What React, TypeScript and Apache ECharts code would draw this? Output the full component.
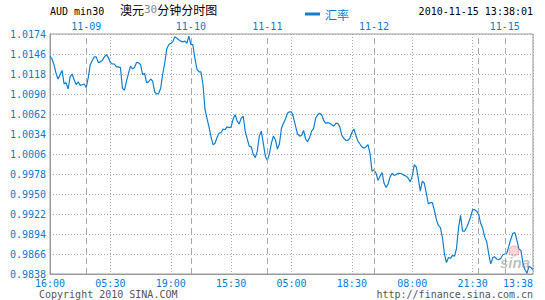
import React, { useEffect, useRef } from "react";
import * as echarts from "echarts";

// Time-axis labels, one every 30 samples
const timeLabels = ["16:00", "05:30", "19:00", "15:30", "05:00", "18:30", "08:00", "21:30", "13:38"];
const labelStep = 30;

// Day boundaries (sample index) and their date labels
const dayIndex = [18, 70, 108, 161, 213, 226];
const dayLabels = ["11-09", "11-10", "11-11", "11-12", "", "11-15"];

// Y axis
const yMin = 0.9838;
const yMax = 1.0174;
const yStep = 0.0028;

// AUD rate, 30-minute intraday samples
const rates = [
  1.0143, 1.0139, 1.0131, 1.0119, 1.0111, 1.0117, 1.0123, 1.0104, 1.0106, 1.0097,
  1.0114, 1.0118, 1.0110, 1.0103, 1.0107, 1.0102, 1.0103, 1.0104, 1.0099, 1.0113,
  1.0131, 1.0137, 1.0142, 1.0142, 1.0134, 1.0135, 1.0137, 1.0142, 1.0145, 1.0141,
  1.0134, 1.0132, 1.0132, 1.0128, 1.0128, 1.0127, 1.0098, 1.0095, 1.0108, 1.0119,
  1.0129, 1.0125, 1.0127, 1.0134, 1.0134, 1.0131, 1.0117, 1.0119, 1.0106, 1.0107,
  1.0111, 1.0108, 1.0093, 1.0090, 1.0091, 1.0098, 1.0118, 1.0133, 1.0153, 1.0159,
  1.0161, 1.0163, 1.0170, 1.0168, 1.0166, 1.0164, 1.0163, 1.0164, 1.0161, 1.0171,
  1.0159, 1.0159, 1.0140, 1.0125, 1.0121, 1.0121, 1.0104, 1.0069, 1.0056, 1.0044,
  1.0030, 1.0019, 1.0021, 1.0029, 1.0035, 1.0036, 1.0041, 1.0040, 1.0044, 1.0043,
  1.0044, 1.0055, 1.0061, 1.0052, 1.0048, 1.0056, 1.0059, 1.0038, 1.0027, 1.0017,
  1.0016, 1.0005, 1.0001, 1.0010, 1.0031, 1.0038, 1.0021, 1.0003, 0.9997, 1.0006,
  1.0021, 1.0031, 1.0026, 1.0013, 1.0020, 1.0042, 1.0049, 1.0055, 1.0063, 1.0065,
  1.0065, 1.0057, 1.0045, 1.0034, 1.0031, 1.0032, 1.0039, 1.0027, 1.0023, 1.0029,
  1.0038, 1.0042, 1.0056, 1.0061, 1.0063, 1.0061, 1.0053, 1.0049, 1.0050, 1.0049,
  1.0047, 1.0045, 1.0049, 1.0049, 1.0044, 1.0032, 1.0028, 1.0025, 1.0025, 1.0028,
  1.0036, 1.0041, 1.0032, 1.0024, 1.0020, 1.0016, 1.0014, 1.0016, 1.0019, 1.0007,
  0.9982, 0.9984, 0.9979, 0.9969, 0.9975, 0.9980, 0.9965, 0.9959, 0.9964, 0.9974,
  0.9979, 0.9976, 0.9977, 0.9979, 0.9979, 0.9978, 0.9976, 0.9975, 0.9972, 0.9967,
  0.9975, 0.9991, 0.9988, 0.9972, 0.9954, 0.9968, 0.9965, 0.9951, 0.9936, 0.9938,
  0.9938, 0.9927, 0.9914, 0.9906, 0.9903, 0.9889, 0.9866, 0.9854, 0.9861, 0.9860,
  0.9864, 0.9863, 0.9874, 0.9903, 0.9920, 0.9898, 0.9898, 0.9903, 0.9910, 0.9918,
  0.9928, 0.9928, 0.9926, 0.9921, 0.9909, 0.9902, 0.9890, 0.9883, 0.9866, 0.9852,
  0.9861, 0.9862, 0.9859, 0.9858, 0.9860, 0.9865, 0.9866, 0.9867, 0.9877, 0.9887,
  0.9895, 0.9896, 0.9885, 0.9873, 0.9871, 0.9853, 0.9844, 0.9839, 0.9849, 0.9847,
  0.9844,
];

const BLUE = "#0f7fd0";
const LABEL_BLUE = "#0a7ccc";
const MONO = "DejaVu Sans Mono";
const CJK = "Noto Sans CJK SC";

export default function App() {
  const ref = useRef<HTMLDivElement>(null);

  useEffect(() => {
    if (!ref.current) return;
    const chart = echarts.init(ref.current, undefined, { renderer: "svg" });

    const last = rates.length - 1;
    const categories = rates.map((_, i) => {
      if (i % labelStep !== 0) return "";
      const text = timeLabels[i / labelStep];
      if (i === last) return { value: text, textStyle: { align: "right" } };
      return text;
    });

    const option: any = {
      animation: false,
      backgroundColor: "#ffffff",
      grid: {
        left: 50,
        top: 34,
        width: 483,
        height: 240,
        show: true,
        borderColor: "#9a9a9a",
        borderWidth: 1,
        containLabel: false,
      },
      legend: {
        left: 300,
        top: 3,
        icon: "rect",
        itemWidth: 15,
        itemHeight: 3,
        itemGap: 5,
        data: ["汇率"],
        textStyle: { color: LABEL_BLUE, fontSize: 12, fontFamily: CJK },
      },
      xAxis: {
        type: "category",
        boundaryGap: false,
        data: categories,
        axisLine: { show: true, lineStyle: { color: "#9a9a9a", width: 1 } },
        axisTick: { show: false },
        axisLabel: {
          interval: labelStep - 1,
          color: LABEL_BLUE,
          fontFamily: MONO,
          fontSize: 10,
          margin: 4,
          showMaxLabel: true,
          showMinLabel: true,
        },
        splitLine: {
          show: true,
          interval: labelStep - 1,
          lineStyle: { color: "#a8a8a8", type: [1, 2], width: 1 },
        },
      },
      yAxis: {
        type: "value",
        min: 0,
        max: +(yMax - yMin).toFixed(4),
        interval: yStep,
        axisLine: { show: true, lineStyle: { color: "#9a9a9a", width: 1 } },
        axisTick: { show: false },
        axisLabel: {
          color: LABEL_BLUE,
          fontFamily: MONO,
          fontSize: 10,
          margin: 4,
          formatter: (v: number) => (v + yMin).toFixed(4),
        },
        splitLine: {
          show: true,
          lineStyle: { color: "#a8a8a8", type: [1, 2], width: 1 },
        },
      },
      series: [
        {
          name: "汇率",
          type: "line",
          data: rates.map((v) => +(v - yMin).toFixed(5)),
          showSymbol: false,
          symbol: "none",
          color: BLUE,
          lineStyle: { color: BLUE, width: 1.2 },
          markLine: {
            silent: true,
            symbol: ["none", "none"],
            lineStyle: { color: "#aaaaaa", type: [6, 4], width: 1 },
            label: {
              show: true,
              position: "end",
              distance: 3,
              color: LABEL_BLUE,
              fontFamily: MONO,
              fontSize: 10,
            },
            data: dayIndex.map((ix, k) => ({
              xAxis: ix,
              label: { formatter: dayLabels[k] },
            })),
          },
        },
      ],
      graphic: [
        {
          type: "text",
          left: 50,
          top: 6,
          style: { text: "AUD min30", fill: "#000", font: `10px ${MONO}` },
        },
        {
          type: "text",
          left: 120,
          top: 3,
          style: {
            text: "{a|澳元}{b|30}{a|分钟分时图}",
            rich: {
              a: { fontFamily: CJK, fontSize: 12, fill: "#000" },
              b: { fontFamily: MONO, fontSize: 11, fill: "#888" },
            },
          },
        },
        {
          type: "text",
          right: 12,
          top: 6,
          style: { text: "2010-11-15 13:38:01", fill: "#000", font: `10px ${MONO}` },
        },
        {
          type: "text",
          left: 39,
          top: 289,
          style: { text: "Copyright 2010 SINA.COM", fill: "#555", font: `10px ${MONO}` },
        },
        {
          type: "text",
          right: 12,
          top: 289,
          style: { text: "http://finance.sina.com.cn", fill: "#555", font: `10px ${MONO}` },
        },
        {
          type: "circle",
          shape: { cx: 514, cy: 251, r: 5 },
          style: { fill: "rgba(240,140,140,0.35)", stroke: "rgba(230,110,110,0.5)", lineWidth: 1 },
          z: 10,
        },
        {
          type: "text",
          x: 500,
          y: 255,
          style: {
            text: "sina",
            fill: "rgba(140,140,140,0.55)",
            font: `italic bold 15px Arial, "Liberation Sans", sans-serif`,
          },
          z: 10,
        },
      ],
    };

    chart.setOption(option);
    return () => chart.dispose();
  }, []);

  return (
    <div
      ref={ref}
      style={{ position: "fixed", left: 0, top: 0, width: 545, height: 300, background: "#fff" }}
    />
  );
}
